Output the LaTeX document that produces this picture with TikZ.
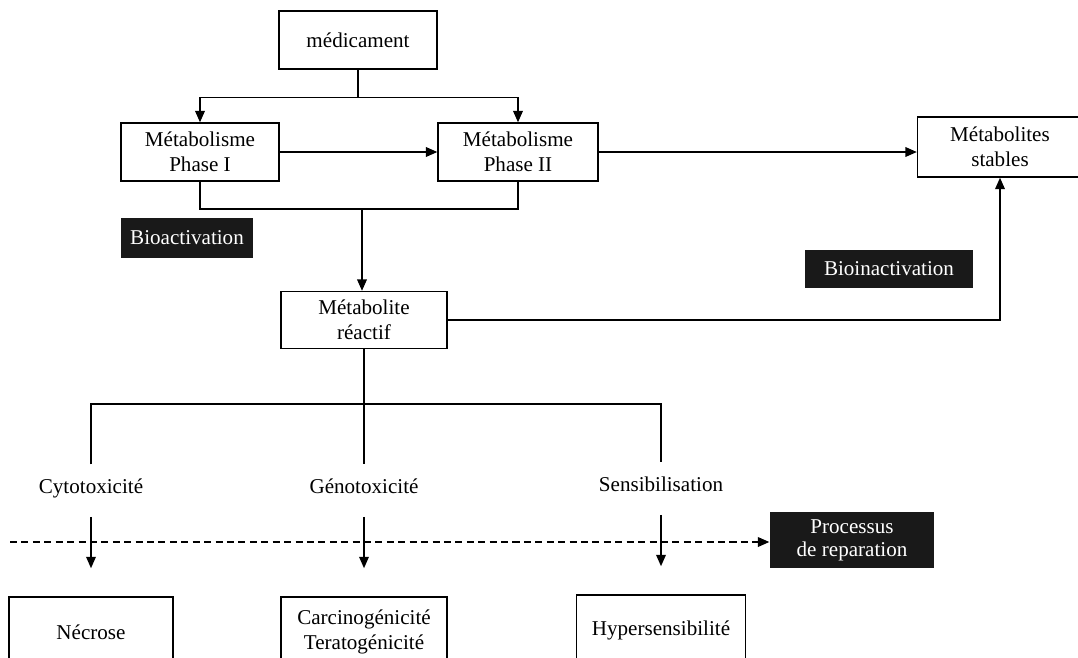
\documentclass[tikz,border=0pt]{standalone}
\usepackage{fontspec}
\setmainfont{Liberation Serif}
\usetikzlibrary{arrows.meta}

\begin{document}
\begin{tikzpicture}[x=0.02cm,y=-0.02cm,thick,
	box/.style={draw,rectangle,align=center,font=\fontsize{12}{14}\selectfont},
	darkbox/.style={fill=black!90,text=white,align=center,font=\fontsize{12}{13}\selectfont},
	effet/.style={inner ysep=7pt,text height=9pt,text depth=3pt,font=\fontsize{12}{14}\selectfont},
	arr/.style={-{Triangle[width=5.5pt,length=6.5pt]}},
	down/.style={arr,shorten >=16pt,shorten <=3pt}]
			\useasboundingbox (0,0) rectangle (1078,657);
			\node[box,minimum width=3.16cm,minimum height=1.16cm] (med) at (358,40) {médicament};
			\node[box,minimum width=3.16cm,minimum height=1.16cm] (ph1) at (200,152) {Métabolisme\\Phase I};
			\node[box,minimum width=3.2cm,minimum height=1.16cm] (ph2) at (518,152) {Métabolisme\\Phase II};
			\node[box,minimum width=3.3cm,minimum height=1.2cm] (stab) at (1000,147) {Métabolites\\stables};
			\node[darkbox,minimum width=2.66cm,minimum height=0.8cm] (bioact) at (187,238) {Bioactivation};
			\node[darkbox,minimum width=3.36cm,minimum height=0.76cm] (bioinact) at (889,269) {Bioinactivation};
			\node[box,minimum width=3.32cm,minimum height=1.14cm] (react) at (364,320) {Métabolite\\réactif};
			\node[effet] (cyto) at (91,488) {Cytotoxicité};
			\node[effet] (geno) at (364,488) {Génotoxicité};
			\node[effet] (sensi) at (661,486) {Sensibilisation};
			\node[darkbox,minimum width=3.28cm,minimum height=1.12cm] (proc) at (852,540) {Processus\\de reparation};
			\node[box,minimum width=3.28cm,minimum height=1.4cm] (necr) at (91,632) {Nécrose};
			\node[box,minimum width=3.32cm,minimum height=1.4cm] (carc) at (364,632) {Carcinogénicité\\Teratogénicité};
			\node[box,minimum width=3.38cm,minimum height=1.4cm] (hyper) at (661,630) {Hypersensibilité};
			\coordinate (join) at (362,209);
			\coordinate (fork) at (364,404);
			\coordinate (dstart) at (10,542);
			% phase I et II
			\draw[arr] (med.south) -- ++(0,28) -| (ph1.north);
			\draw[arr] (med.south) -- ++(0,28) -| (ph2.north);
			\draw[arr] (ph1) -- (ph2);
			\draw[arr] (ph2.east) -- (ph2.east -| stab.west);
			\draw (ph1.south) |- (join) -| (ph2.south);
			\draw[arr] (join) -- (join |- react.north);
			\draw[arr] (react.east) -| (stab.south);
			% effets
			\draw (react.south) -- (geno.north);
			\draw (cyto.north) |- (fork) -| (sensi.north);
			\draw[down] (cyto) -- (necr);
			\draw[down] (geno) -- (carc);
			\draw[down] (sensi) -- (hyper);
			\draw[arr,dash pattern=on 4pt off 2.5pt] (dstart) -- (dstart -| proc.west);
		\end{tikzpicture}
\end{document}
